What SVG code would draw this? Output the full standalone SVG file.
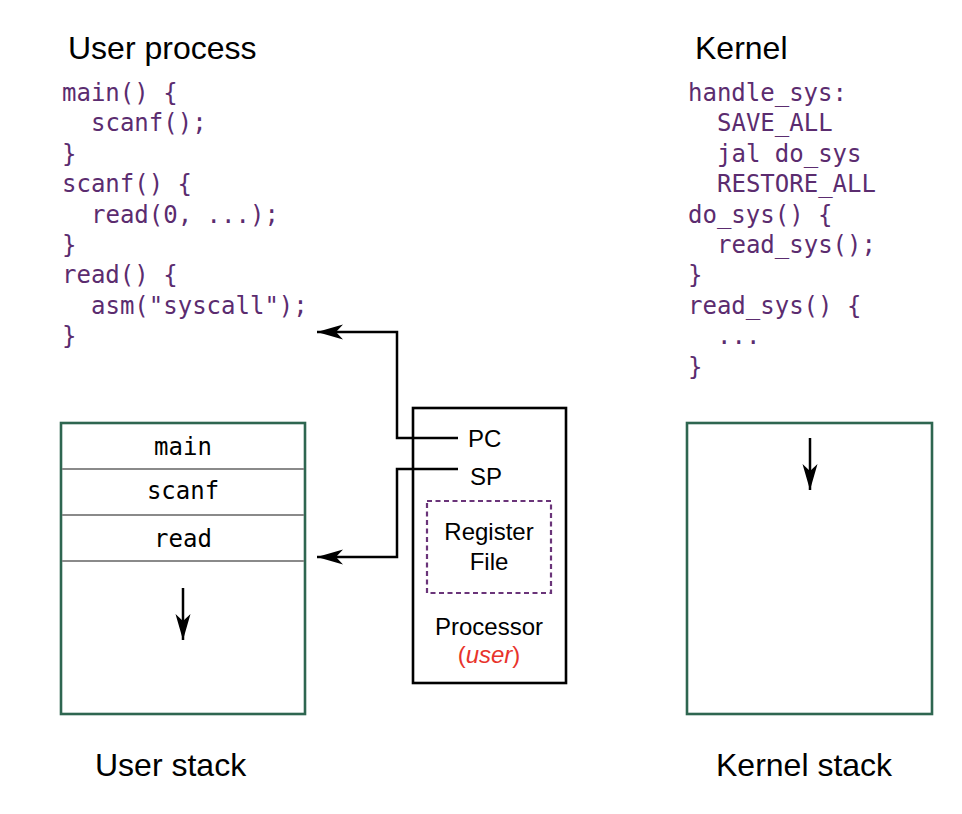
<svg xmlns="http://www.w3.org/2000/svg" width="962" height="814" viewBox="0 0 962 814">
  <style>
    .title { font-family: "Liberation Sans", Arial, sans-serif; font-size: 32px; fill: #000; }
    .code { font-family: "DejaVu Sans Mono", monospace; font-size: 24px; fill: #5b2c6f; }
    .frame-label { font-family: "DejaVu Sans Mono", monospace; font-size: 24px; fill: #000; text-anchor: middle; }
    .stack { fill: #fff; stroke: #2e6650; stroke-width: 2.6; }
    .sep { stroke: #8a8a8a; stroke-width: 2; }
    .cpu { fill: #fff; stroke: #000; stroke-width: 2.6; }
    .regfile { fill: none; stroke: #6a3479; stroke-width: 2.2; stroke-dasharray: 5 3.5; }
    .reg { font-family: "Liberation Sans", Arial, sans-serif; font-size: 24px; fill: #000; }
    .cpu-text { font-family: "Liberation Sans", Arial, sans-serif; font-size: 24px; fill: #000; text-anchor: middle; }
    .mode { fill: #e8332b; }
    .wire { fill: none; stroke: #000; stroke-width: 2.5; }
  </style>
  <defs>
    <marker id="head" markerUnits="userSpaceOnUse" viewBox="-27 -9 28 18" refX="0" refY="0" markerWidth="28" markerHeight="18" orient="auto">
      <path d="M0,0 L-26,-7.5 L-19,0 L-26,7.5 Z" fill="#000"/>
    </marker>
  </defs>

  <!-- user process source -->
  <g id="user-process">
    <text class="title" x="68" y="59">User process</text>
    <text class="code" x="62" y="101">main() {</text>
    <text class="code" x="91" y="131">scanf();</text>
    <text class="code" x="62" y="162">}</text>
    <text class="code" x="62" y="192">scanf() {</text>
    <text class="code" x="91" y="223">read(0, ...);</text>
    <text class="code" x="62" y="253">}</text>
    <text class="code" x="62" y="283">read() {</text>
    <text class="code" x="91" y="314">asm("syscall");</text>
    <text class="code" x="62" y="344">}</text>
  </g>

  <!-- kernel source -->
  <g id="kernel">
    <text class="title" x="695" y="59">Kernel</text>
    <text class="code" x="688" y="101">handle_sys:</text>
    <text class="code" x="717" y="131">SAVE_ALL</text>
    <text class="code" x="717" y="162">jal do_sys</text>
    <text class="code" x="717" y="192">RESTORE_ALL</text>
    <text class="code" x="688" y="223">do_sys() {</text>
    <text class="code" x="717" y="253">read_sys();</text>
    <text class="code" x="688" y="283">}</text>
    <text class="code" x="688" y="314">read_sys() {</text>
    <text class="code" x="717" y="344">...</text>
    <text class="code" x="688" y="375">}</text>
  </g>

  <!-- user stack -->
  <g id="user-stack">
    <rect class="stack" x="61" y="423" width="244" height="291"/>
    <line class="sep" x1="62" y1="469" x2="304" y2="469"/>
    <line class="sep" x1="62" y1="515" x2="304" y2="515"/>
    <line class="sep" x1="62" y1="561" x2="304" y2="561"/>
    <text class="frame-label" x="183" y="455">main</text>
    <text class="frame-label" x="183" y="499">scanf</text>
    <text class="frame-label" x="183" y="547">read</text>
    <line class="wire" x1="183" y1="588" x2="183" y2="640" marker-end="url(#head)"/>
    <text class="title" x="95" y="776">User stack</text>
  </g>

  <!-- kernel stack -->
  <g id="kernel-stack">
    <rect class="stack" x="687" y="423" width="245" height="291"/>
    <line class="wire" x1="810" y1="438" x2="810" y2="490" marker-end="url(#head)"/>
    <text class="title" x="716" y="776">Kernel stack</text>
  </g>

  <!-- processor -->
  <g id="processor">
    <rect class="cpu" x="413" y="408" width="153" height="275"/>
    <text class="reg" x="468" y="447">PC</text>
    <text class="reg" x="470" y="485">SP</text>
    <rect class="regfile" x="427" y="501" width="124" height="92"/>
    <text class="cpu-text" x="489" y="540">Register</text>
    <text class="cpu-text" x="489" y="570">File</text>
    <text class="cpu-text" x="489" y="635">Processor</text>
    <text class="cpu-text mode" x="489" y="663">(<tspan font-style="italic">user</tspan>)</text>
  </g>

  <!-- register connectors -->
  <g id="connectors">
    <path class="wire" d="M458,438 H397 V332 H317" marker-end="url(#head)"/>
    <path class="wire" d="M458,469 H397 V557 H317" marker-end="url(#head)"/>
  </g>
</svg>
